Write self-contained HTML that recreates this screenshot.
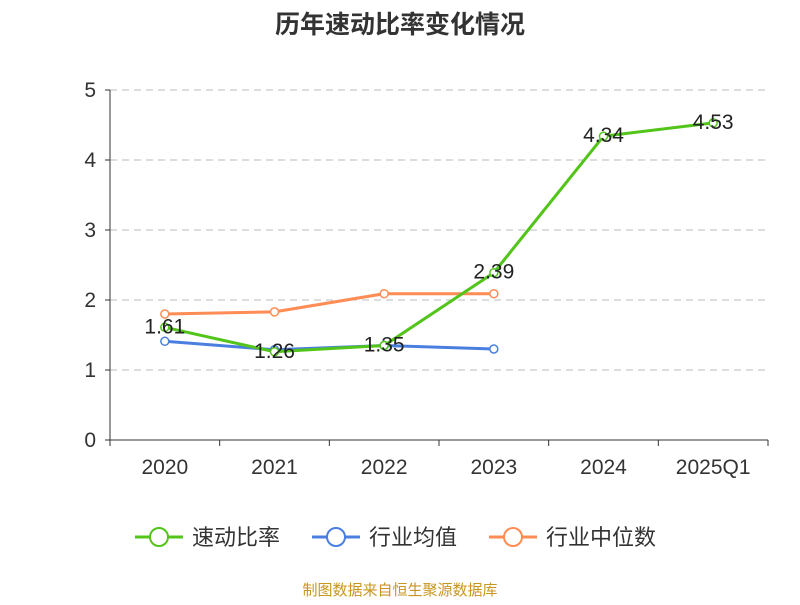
<!DOCTYPE html>
<html><head><meta charset="utf-8"><style>
body{margin:0;background:#fff;font-family:"Liberation Sans","Noto Sans CJK SC",sans-serif;}
</style></head><body>
<svg width="800" height="600" id="c" font-family="Liberation Sans, Noto Sans CJK SC, sans-serif">
<text x="400" y="33" text-anchor="middle" font-size="25" font-weight="bold" fill="#333">历年速动比率变化情况</text>
<text x="400" y="595" text-anchor="middle" font-size="15" fill="#c8961e">制图数据来自恒生聚源数据库</text>
</svg>
<script>
const categories=["2020","2021","2022","2023","2024","2025Q1"];
const yTicks=[0,1,2,3,4,5];
const quick=[1.61,1.26,1.35,2.39,4.34,4.53];
const avg=[1.41,1.29,1.35,1.30];
const median=[1.80,1.83,2.09,2.09];
const seriesNames=["速动比率","行业均值","行业中位数"];
const colors=["#52c41a","#4a7fe0","#ff8c55"];
const svg=document.getElementById('c');const NS="http://www.w3.org/2000/svg";
const x0=110,x1=768,yB=440,yT=90;
const bw=(x1-x0)/categories.length;
const xs=i=>x0+bw*(i+0.5);
const ys=v=>yB-(yB-yT)*v/5;
function mk(t,a,p){const e=document.createElementNS(NS,t);for(const k in a)e.setAttribute(k,a[k]);(p||svg).appendChild(e);return e;}
yTicks.forEach(v=>{
 if(v>0){const g=mk('line',{x1:x0,x2:x1,y1:ys(v),y2:ys(v),stroke:'#bbb','stroke-dasharray':'7,5'});
 
 }
 const t=mk('line',{x1:x0-5,x2:x0,y1:ys(v),y2:ys(v),stroke:'#333'});
 
 
 const l=mk('text',{x:x0-14,y:ys(v)+7,'text-anchor':'end','font-size':21,fill:'#333'});l.textContent=v;
 
 
});
let a=mk('line',{x1:x0,x2:x0,y1:yT,y2:yB,stroke:'#333'});


a=mk('line',{x1:x0,x2:x1,y1:yB,y2:yB,stroke:'#333'});


for(let i=0;i<=categories.length;i++){const t=mk('line',{x1:x0+bw*i,x2:x0+bw*i,y1:yB,y2:yB+6,stroke:'#333'});
 
 }
categories.forEach((c,i)=>{const l=mk('text',{x:xs(i),y:yB+34,'text-anchor':'middle','font-size':21,fill:'#333'});l.textContent=c;
 
 });
function series(d,col,name,labels){
 const g=mk('g',{});
 
 
 const p=mk('polyline',{points:d.map((v,i)=>xs(i)+','+ys(v)).join(' '),fill:'none',stroke:col,'stroke-width':3},g);
 
 
 d.forEach((v,i)=>{const c=mk('circle',{cx:xs(i),cy:ys(v),r:4,fill:'#fff',stroke:col,'stroke-width':1.5},g);
  
  
  if(labels){const t=mk('text',{x:xs(i),y:ys(v)+6,'text-anchor':'middle','font-size':21,fill:'#222'},g);t.textContent=v.toFixed(2);
  
  }
 });
}
series(median,colors[2],'median-series',false);
series(avg,colors[1],'average-series',false);
series(quick,colors[0],'quick-ratio-series',true);
const lx=[135,312,489];
seriesNames.forEach((n,i)=>{
 const g=mk('g',{});
 
 
 mk('line',{x1:lx[i],x2:lx[i]+48,y1:537,y2:537,stroke:colors[i],'stroke-width':3},g);
 mk('circle',{cx:lx[i]+24,cy:537,r:9,fill:'#fff',stroke:colors[i],'stroke-width':2},g);
 const t=mk('text',{x:lx[i]+57,y:545,'font-size':22,fill:'#333'},g);t.textContent=n;
});
</script>
</body></html>
